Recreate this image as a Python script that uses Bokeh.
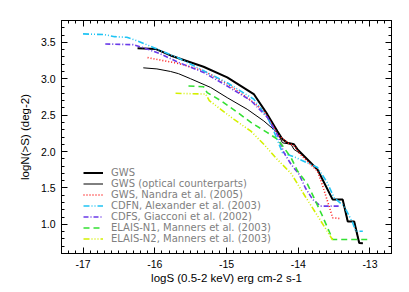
from bokeh.plotting import figure
from bokeh.models import (LinearAxis, SingleIntervalTicker, PrintfTickFormatter,
                          Legend, LegendItem, Range1d, CustomJSTickFormatter)
from bokeh.embed import file_html
from bokeh.resources import INLINE

# ---- data ----
gws_x = [-16.24, -15.99, -15.78, -15.32, -14.99, -14.62, -14.43, -14.29, -14.22, -14.15,
         -14.06, -14.01, -13.92, -13.83, -13.73, -13.52, -13.38, -13.31, -13.22, -13.15, -13.10]
gws_y = [3.42, 3.41, 3.32, 3.165, 3.02, 2.79, 2.51, 2.28, 2.17, 2.12,
         2.10, 2.03, 1.94, 1.85, 1.75, 1.34, 1.34, 1.04, 1.04, 0.745, 0.74]

opt_x = [-16.16, -15.97, -15.78, -15.67, -15.50, -15.22, -14.99, -14.71, -14.48, -14.29, -14.22,
         -14.10, -14.06, -13.92, -13.83, -13.73, -13.52, -13.38, -13.31, -13.22, -13.15, -13.10]
opt_y = [3.15, 3.135, 3.10, 3.07, 3.00, 2.88, 2.74, 2.58, 2.42, 2.26, 2.12,
         2.10, 2.03, 1.94, 1.85, 1.75, 1.34, 1.34, 1.04, 1.04, 0.745, 0.74]

nandra_x = [-16.10, -15.67, -15.32, -14.99, -14.71, -14.48, -14.34, -14.29, -14.15, -14.06,
            -13.97, -13.73, -13.66, -13.57, -13.52, -13.41]
nandra_y = [3.29, 3.21, 3.11, 2.93, 2.74, 2.56, 2.33, 2.24, 2.12, 2.08,
            1.96, 1.73, 1.53, 1.25, 1.09, 1.08]

cdfn_x = [-17.00, -16.70, -16.56, -16.39, -16.25, -16.02, -15.67, -15.32, -14.99, -14.62, -14.43,
          -14.36, -14.22, -14.03, -13.83, -13.73, -13.60, -13.50, -13.36, -13.24, -13.20, -13.10]
cdfn_y = [3.616, 3.606, 3.578, 3.569, 3.523, 3.43, 3.285, 3.11, 2.945, 2.72, 2.467,
          2.33, 1.985, 1.916, 1.825, 1.78, 1.58, 1.365, 1.25, 1.02, 0.906, 0.906]

cdfs_x = [-16.69, -16.30, -16.11, -15.92, -15.67, -15.32, -14.99, -14.66, -14.43, -14.29,
          -14.20, -14.10, -13.99, -13.90, -13.80, -13.69, -13.41]
cdfs_y = [3.478, 3.468, 3.41, 3.34, 3.225, 3.087, 2.90, 2.70, 2.47, 2.23,
          1.985, 1.825, 1.69, 1.50, 1.343, 1.25, 1.25]

n1_x = [-15.53, -15.32, -15.27, -15.08, -14.85, -14.66, -14.43, -14.29, -14.20, -14.10,
        -14.01, -13.87, -13.78, -13.66, -13.52, -12.99]
n1_y = [2.90, 2.89, 2.81, 2.70, 2.54, 2.40, 2.26, 2.17, 2.054, 1.916,
        1.733, 1.55, 1.365, 1.11, 0.792, 0.792]

n2_x = [-15.71, -15.29, -15.24, -15.08, -14.90, -14.66, -14.55, -14.48, -14.30, -14.10,
        -13.90, -13.70, -13.52]
n2_y = [2.80, 2.79, 2.70, 2.58, 2.445, 2.28, 2.17, 2.10, 1.90, 1.70,
        1.38, 1.07, 0.785]

labels = ["GWS", "GWS (optical counterparts)", "GWS, Nandra et al. (2005)",
          "CDFN, Alexander et al. (2003)", "CDFS, Giacconi et al. (2002)",
          "ELAIS-N1, Manners et al. (2003)", "ELAIS-N2, Manners et al. (2003)"]

x_ticks_interval = 1
y_ticks_interval = 0.5

# ---- figure ----
p = figure(frame_width=330, frame_height=233,
           x_range=Range1d(-17.3, -12.7), y_range=Range1d(0.6, 3.8),
           output_backend="svg", toolbar_location=None,
           min_border_left=61, min_border_right=18, min_border_top=20, min_border_bottom=39)
p.grid.visible = False
p.outline_line_color = "black"
p.background_fill_color = "white"
p.border_fill_color = "white"

xt = SingleIntervalTicker(interval=x_ticks_interval, num_minor_ticks=10)
yt = SingleIntervalTicker(interval=y_ticks_interval, num_minor_ticks=5)

def style(ax):
    ax.major_tick_in = 6
    ax.major_tick_out = 0
    ax.minor_tick_in = 3
    ax.minor_tick_out = 0
    ax.axis_line_color = "black"
    ax.major_tick_line_color = "black"
    ax.minor_tick_line_color = "black"
    ax.major_label_text_font = "Liberation Sans"
    ax.major_label_text_font_size = "10.5px"
    ax.major_label_text_color = "black"
    ax.axis_label_text_font = "Liberation Sans"
    ax.axis_label_text_font_size = "11.5px"
    ax.axis_label_text_font_style = "normal"
    ax.axis_label_text_color = "black"

xa = p.xaxis[0]
ya = p.yaxis[0]
xa.ticker = xt
ya.ticker = yt
xa.formatter = PrintfTickFormatter(format="%d")
ya.formatter = PrintfTickFormatter(format="%.1f")
style(xa)
style(ya)
xa.axis_label = "logS (0.5-2 keV) erg cm-2 s-1"
ya.axis_label = "logN(>S) (deg-2)"
xa.major_label_standoff = 6
xa.axis_label_standoff = 1
ya.major_label_standoff = 6
ya.axis_label_standoff = 7

blank = CustomJSTickFormatter(code="return ''")
top = LinearAxis(ticker=xt, formatter=blank, major_label_standoff=0)
right = LinearAxis(ticker=yt, formatter=blank, major_label_standoff=0)
style(top)
style(right)
p.add_layout(top, "above")
p.add_layout(right, "right")

# ---- lines ----
r1 = p.line(gws_x, gws_y, line_color="black", line_width=2)
r2 = p.line(opt_x, opt_y, line_color="black", line_width=1)
r3 = p.line(nandra_x, nandra_y, line_color="#ff1a1a", line_width=1.6, line_dash="1 2")
r4 = p.line(cdfn_x, cdfn_y, line_color="#20c4f4", line_width=1.6, line_dash="6 2 1 2 1 2")
r5 = p.line(cdfs_x, cdfs_y, line_color="#6a3ae8", line_width=1.6, line_dash="5 2 1 2")
r6 = p.line(n1_x, n1_y, line_color="#33e033", line_width=1.6, line_dash="6 4")
r7 = p.line(n2_x, n2_y, line_color="#d4f000", line_width=1.6, line_dash="6 2 1 2 1 2 1 2")

rs = [r1, r2, r3, r4, r5, r6, r7]
legend = Legend(items=[LegendItem(label=l, renderers=[r]) for l, r in zip(labels, rs)],
                location=(22, 9), glyph_width=20, glyph_height=9, label_height=9,
                spacing=-3, padding=0, margin=0, label_standoff=8,
                border_line_color=None, background_fill_alpha=0,
                label_text_font="DejaVu Sans", label_text_font_size="10px",
                label_text_color="#808080")
p.add_layout(legend)

open("out.html", "w").write(file_html(p, INLINE))
